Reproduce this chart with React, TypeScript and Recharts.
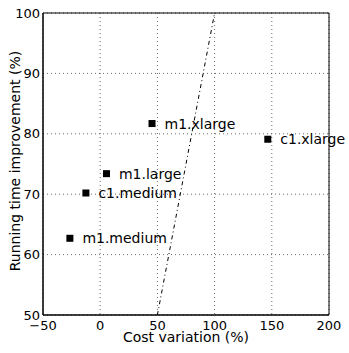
import { ScatterChart, Scatter, XAxis, YAxis, CartesianGrid, ReferenceLine, ReferenceArea, Label } from 'recharts';

const instances = ['m1.xlarge', 'c1.xlarge', 'm1.large', 'c1.medium', 'm1.medium'];
const costVariation = [45.3, 146.5, 5.5, -12.5, -26.5];
const timeImprovement = [81.7, 79.1, 73.4, 70.2, 62.7];
const xTicks = [-50, 0, 50, 100, 150, 200];
const yTicks = [50, 60, 70, 80, 90, 100];
const breakEven = [{ x: 50, y: 50 }, { x: 100, y: 100 }];

const points = instances.map((name, i) => ({ name, x: costVariation[i], y: timeImprovement[i] }));

const FONT = 'DejaVu Sans, sans-serif';
const fmt = (v: number) => String(v).replace('-', '\u2212');

const Marker = (props: any) => {
  const { cx, cy, payload } = props;
  return (
    <g>
      <rect x={cx - 3.5} y={cy - 3.5} width={7} height={7} fill="#000" />
      <text x={cx + 12.5} y={cy} dominantBaseline="central" fontSize={14} fontFamily={FONT} fill="#000">
        {payload.name}
      </text>
    </g>
  );
};

export default function App() {
  return (
    <div style={{ position: 'absolute', left: 0, top: 0, width: 349, height: 353, background: '#fff' }}>
      <ScatterChart width={349} height={353} margin={{ top: 13, right: 20, bottom: 0, left: 0 }}>
        <CartesianGrid stroke="#444" strokeDasharray="1 3" strokeWidth={0.8} />
        <XAxis
          type="number"
          dataKey="x"
          domain={[-50, 200]}
          ticks={xTicks}
          tickFormatter={fmt}
          axisLine={{ stroke: '#000' }}
          tickLine={false}
          tickSize={0}
          tickMargin={6}
          height={38}
          tick={{ fontSize: 13, fontFamily: FONT, fill: '#000' }}
        >
          <Label
            content={(p: any) => (
              <text x={p.viewBox.x + p.viewBox.width / 2} y={342} textAnchor="middle" fontSize={14} fontFamily={FONT} fill="#000">
                Cost variation (%)
              </text>
            )}
          />
        </XAxis>
        <YAxis
          type="number"
          dataKey="y"
          domain={[50, 100]}
          ticks={yTicks}
          axisLine={{ stroke: '#000' }}
          tickLine={false}
          tickSize={0}
          tickMargin={3}
          width={43}
          tick={{ fontSize: 13, fontFamily: FONT, fill: '#000' }}
        >
          <Label
            content={(p: any) => {
              const cy = p.viewBox.y + p.viewBox.height / 2 - 3;
              return (
                <text x={15} y={cy} transform={`rotate(-90 15 ${cy})`} textAnchor="middle" dominantBaseline="central" fontSize={14} fontFamily={FONT} fill="#000">
                  Running time improvement (%)
                </text>
              );
            }}
          />
        </YAxis>
        <ReferenceArea x1={-50} x2={200} y1={50} y2={100} fill="none" stroke="#000" strokeWidth={1} ifOverflow="visible" />
        <ReferenceLine segment={breakEven} stroke="#000" strokeWidth={1} strokeDasharray="4 3 1 3" />
        <Scatter data={points} shape={Marker} isAnimationActive={false} />
      </ScatterChart>
    </div>
  );
}
